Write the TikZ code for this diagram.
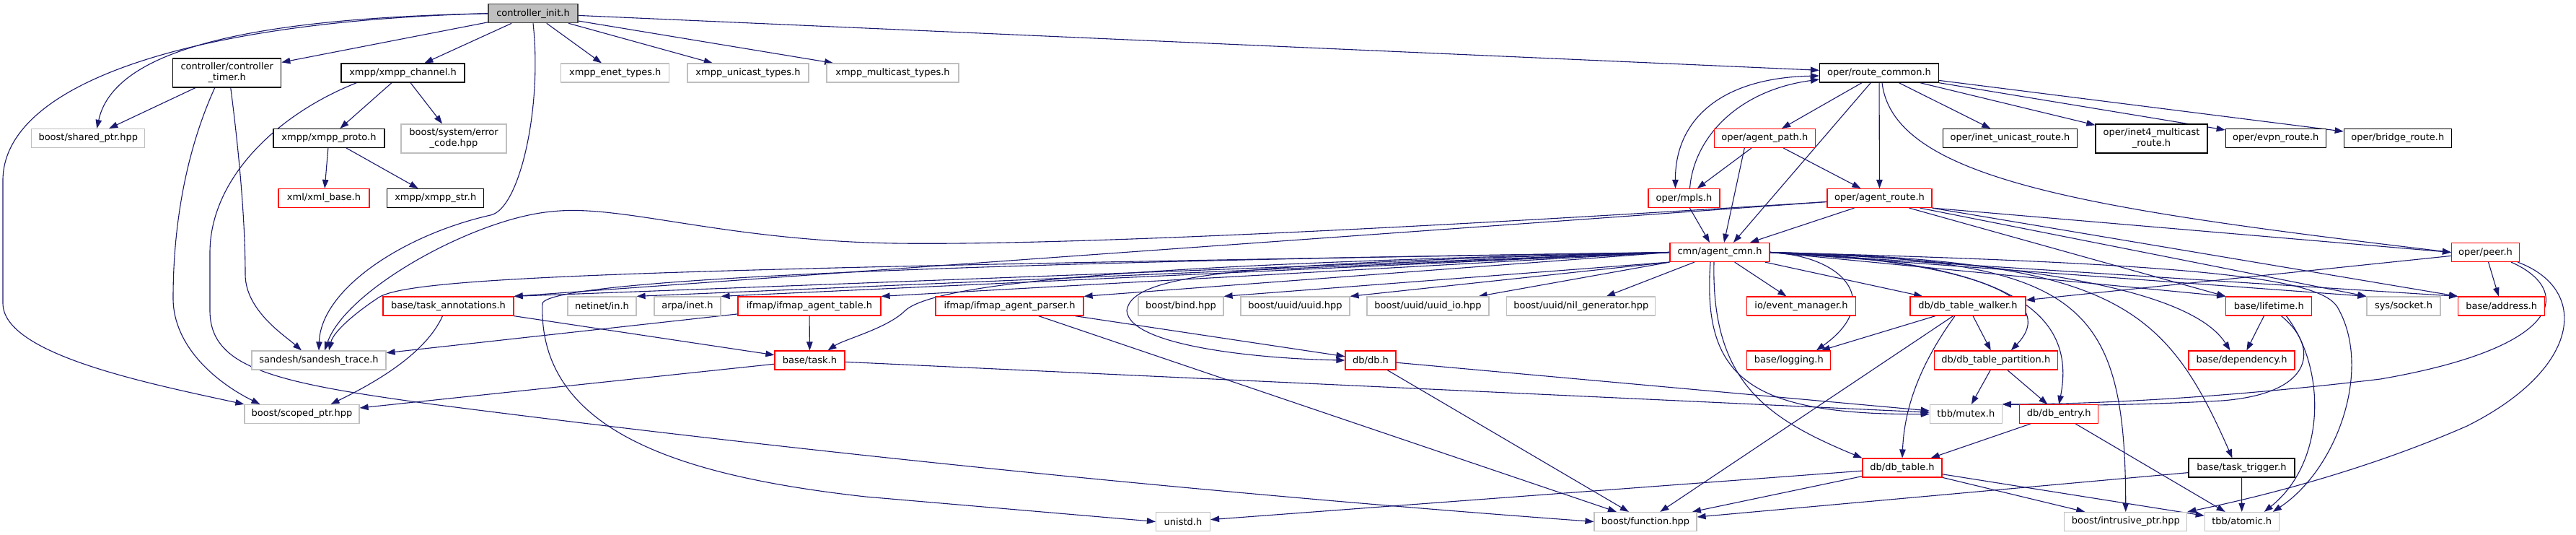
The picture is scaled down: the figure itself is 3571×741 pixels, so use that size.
\documentclass[tikz,border=0pt]{standalone}
\usepackage{fontspec}
\setmainfont{DejaVu Sans}
\usepackage{tikz}
\usetikzlibrary{arrows.meta}
\definecolor{edgeblue}{HTML}{191970}
\definecolor{nodered}{HTML}{FF0000}
\definecolor{nodegrey}{HTML}{BFBFBF}
\definecolor{rootline}{HTML}{404040}
\pgfdeclarelayer{background}
\pgfsetlayers{background,main}

\begin{document}
\begin{tikzpicture}[
    x=1pt, y=-1pt,
    box/.style={rectangle, draw, line width=1.2pt, fill=white, minimum height=26pt, inner sep=2pt, align=center, font=\fontsize{13}{15}\selectfont},
    tall/.style={minimum height=40pt},
    rootbox/.style={box, draw=rootline, fill=nodegrey},
    blackbox/.style={box, draw=black},
    greybox/.style={box, draw=nodegrey},
    redbox/.style={box, draw=nodered},
    arrow/.style={-{Stealth[length=12pt, width=8.5pt, inset=0pt]}, draw=edgeblue, line width=1.1pt},
    darrow/.style={{Stealth[length=12pt, width=8.5pt, inset=0pt]}-{Stealth[length=12pt, width=8.5pt, inset=0pt]}, draw=edgeblue, line width=1.1pt},
]
\useasboundingbox (0,0) rectangle (3571,741);

% Root
\node[rootbox, minimum width=124pt] (C) at (739,18.7) {controller\_init.h};

% Second row
\node[blackbox, tall, minimum width=150pt] (timer) at (314.75,101) {controller/controller\\\_timer.h};
\node[blackbox, minimum width=171pt] (channel) at (558.5,101) {xmpp/xmpp\_channel.h};
\node[greybox, minimum width=150pt] (enet) at (852.75,101) {xmpp\_enet\_types.h};
\node[greybox, minimum width=168pt] (unicast) at (1037,101) {xmpp\_unicast\_types.h};
\node[greybox, minimum width=183pt] (multicast) at (1237.5,101) {xmpp\_multicast\_types.h};
\node[blackbox, minimum width=165pt] (R) at (2605,101) {oper/route\_common.h};

% Third row
\node[greybox, minimum width=157pt] (shared) at (122.3,191.5) {boost/shared\_ptr.hpp};
\node[blackbox, minimum width=154pt] (proto) at (456,191.5) {xmpp/xmpp\_proto.h};
\node[greybox, tall, minimum width=146pt] (errcode) at (629,192) {boost/system/error\\\_code.hpp};
\node[redbox, minimum width=140pt] (P) at (2446.25,191.5) {oper/agent\_path.h};
\node[blackbox, minimum width=186pt] (inetuni) at (2786.5,191.5) {oper/inet\_unicast\_route.h};
\node[blackbox, tall, minimum width=155pt] (inet4) at (2982.5,192) {oper/inet4\_multicast\\\_route.h};
\node[blackbox, minimum width=139pt] (evpn) at (3154.75,191.5) {oper/evpn\_route.h};
\node[blackbox, minimum width=149pt] (bridge) at (3323.75,191.5) {oper/bridge\_route.h};

% Fourth and fifth rows
\node[redbox, minimum width=126pt] (xmlbase) at (449,274.5) {xml/xml\_base.h};
\node[blackbox, minimum width=134pt] (xmppstr) at (603.75,274.5) {xmpp/xmpp\_str.h};
\node[redbox, minimum width=99pt] (mpls) at (2334.5,274.5) {oper/mpls.h};
\node[redbox, minimum width=145pt] (AR) at (2605.5,274.5) {oper/agent\_route.h};
\node[redbox, minimum width=138pt] (A) at (2384,349.5) {cmn/agent\_cmn.h};
\node[redbox, minimum width=94pt] (peer) at (3445.5,349.5) {oper/peer.h};

% Sixth row
\node[redbox, minimum width=181pt] (TA) at (621.5,424) {base/task\_annotations.h};
\node[greybox, minimum width=95pt] (netinet) at (834.5,424) {netinet/in.h};
\node[greybox, minimum width=92pt] (arpa) at (953,424) {arpa/inet.h};
\node[redbox, minimum width=198pt] (IT) at (1122,424) {ifmap/ifmap\_agent\_table.h};
\node[redbox, minimum width=205pt] (IP) at (1399.5,424) {ifmap/ifmap\_agent\_parser.h};
\node[greybox, minimum width=118pt] (bind) at (1637,424) {boost/bind.hpp};
\node[greybox, minimum width=151pt] (uuid) at (1795.5,424) {boost/uuid/uuid.hpp};
\node[greybox, minimum width=169pt] (uuidio) at (1979.5,424) {boost/uuid/uuid\_io.hpp};
\node[greybox, minimum width=206pt] (nilgen) at (2191.75,424) {boost/uuid/nil\_generator.hpp};
\node[redbox, minimum width=151pt] (EM) at (2497,424) {io/event\_manager.h};
\node[redbox, minimum width=160pt] (walker) at (2728,424) {db/db\_table\_walker.h};
\node[redbox, minimum width=119pt] (lifetime) at (3145.3,424) {base/lifetime.h};
\node[greybox, minimum width=102pt] (socket) at (3332,424) {sys/socket.h};
\node[redbox, minimum width=120pt] (address) at (3467.75,424) {base/address.h};

% Seventh row
\node[greybox, minimum width=186pt] (sandesh) at (442,499) {sandesh/sandesh\_trace.h};
\node[redbox, minimum width=97pt] (task) at (1122.5,499) {base/task.h};
\node[redbox, minimum width=70pt] (db) at (1900,499) {db/db.h};
\node[redbox, minimum width=116pt] (logging) at (2479.85,499) {base/logging.h};
\node[redbox, minimum width=171pt] (partition) at (2766.8,499) {db/db\_table\_partition.h};
\node[redbox, minimum width=147pt] (dependency) at (3107.5,499) {base/dependency.h};

% Lower rows
\node[greybox, minimum width=159pt] (scoped) at (418.5,573.5) {boost/scoped\_ptr.hpp};
\node[greybox, minimum width=100pt] (mutex) at (2725.3,573.5) {tbb/mutex.h};
\node[redbox, minimum width=109pt] (dbentry) at (2854.25,573.5) {db/db\_entry.h};
\node[redbox, minimum width=110pt] (dbtable) at (2637,648) {db/db\_table.h};
\node[blackbox, minimum width=147pt] (tasktrigger) at (3107.5,648) {base/task\_trigger.h};
\node[greybox, minimum width=75pt] (unistd) at (1640,722.5) {unistd.h};
\node[greybox, minimum width=142pt] (function) at (2281,722.5) {boost/function.hpp};
\node[greybox, minimum width=170pt] (intrusive) at (2946.75,722.5) {boost/intrusive\_ptr.hpp};
\node[greybox, minimum width=103pt] (atomic) at (3107.75,722.5) {tbb/atomic.h};

\begin{pgfonlayer}{background}
\fill[white] (0,0) rectangle (3571,741);

% controller_init.h
\draw[arrow] (C) -- (timer);
\draw[arrow] (C) -- (channel);
\draw[arrow] (C) -- (enet);
\draw[arrow] (C) -- (unicast);
\draw[arrow] (C) -- (multicast);
\draw[arrow] (C) -- (R);
\draw[arrow] (C.west) .. controls (380,25) and (160,60) .. ([xshift=12pt]shared.north);
\draw[arrow] (C.west) .. controls (250,30) and (4,120) .. (4,250) -- (4,420) .. controls (4,490) and (200,530) .. (scoped.north west);
\draw[arrow] (C.south) .. controls (752,150) and (720,290) .. (680,298) .. controls (560,325) and (445,400) .. (sandesh.north);

% controller_timer.h
\draw[arrow] (timer) -- (shared);
\draw[arrow] ([xshift=-17pt]timer.south) .. controls (262,200) and (240,300) .. (240,413) .. controls (240,480) and (300,530) .. ([xshift=-58pt]scoped.north);
\draw[arrow] ([xshift=5pt]timer.south) .. controls (330,200) and (340,300) .. (340,380) .. controls (340,430) and (395,465) .. ([xshift=-24pt]sandesh.north);

% xmpp
\draw[arrow] (channel) -- (proto);
\draw[arrow] (channel) -- (errcode);
\draw[arrow] ([xshift=-64pt]channel.south) .. controls (380,160) and (291,250) .. (291,350) -- (291,430) .. controls (291,510) and (380,530) .. (600,560) .. controls (1300,650) and (1900,700) .. (function.west);
\draw[arrow] (proto) -- (xmlbase);
\draw[arrow] (proto) -- (xmppstr);

% route_common.h
\draw[arrow] (R) -- (P);
\draw[arrow] (R) -- ([xshift=19pt]A.north);
\draw[arrow] (R) -- (AR);
\draw[arrow] (R) -- (inetuni);
\draw[arrow] (R) -- (inet4);
\draw[arrow] (R) -- (evpn);
\draw[arrow] (R) -- (bridge);
\draw[arrow] ([xshift=4pt]R.south) .. controls (2625,250) and (2900,290) .. (peer.west);
\draw[darrow] ([yshift=-4pt]R.west) .. controls (2380,108) and (2322,170) .. ([xshift=-12pt]mpls.north);
\draw[arrow] ([xshift=8pt]mpls.north) .. controls (2348,190) and (2410,125) .. ([yshift=-9pt]R.west);

% agent_path.h, mpls.h
\draw[arrow] (P) -- (mpls);
\draw[arrow] ([xshift=-28pt]P.south) -- ([xshift=6pt]A.north);
\draw[arrow] (P) -- (AR);
\draw[arrow] (mpls) -- ([xshift=-14pt]A.north);

% agent_route.h
\draw[arrow] ([xshift=-35pt]AR.south) -- ([xshift=42pt]A.north);
\draw[arrow] ([xshift=41pt]AR.south) -- (lifetime.north west);
\draw[arrow] ([xshift=56pt]AR.south) -- (socket.north west);
\draw[arrow] (AR.south east) -- (address.north west);
\draw[arrow] (AR.south east) -- (peer.west);
\draw[arrow] ([yshift=-5pt]AR.west) -- (TA.north east);
\draw[arrow] ([yshift=-5pt]AR.west) .. controls (1900,320) and (1450,340) .. (1240,337) .. controls (1000,333) and (860,282) .. (765,293) .. controls (660,302) and (480,400) .. ([xshift=8pt]sandesh.north);

% agent_cmn.h
\draw[arrow] (A.west) -- (TA.north east);
\draw[arrow] (A.west) -- (netinet.north east);
\draw[arrow] (A.west) -- (arpa.north east);
\draw[arrow] (A.west) -- (IT.north east);
\draw[arrow] (A.west) -- (IP.north east);
\draw[arrow] (A.south west) -- (bind.north east);
\draw[arrow] (A.south west) -- (uuid.north east);
\draw[arrow] (A.south west) -- ([xshift=-15pt]uuidio.north east);
\draw[arrow] (A) -- (nilgen);
\draw[arrow] (A) -- (EM);
\draw[arrow] (A) -- (walker);
\draw[arrow] (A.east) -- (lifetime.north west);
\draw[arrow] (A.east) -- (socket.north west);
\draw[arrow] (A.east) -- (address.north west);
\draw[arrow] (A.east) .. controls (2560,355) and (2610,420) .. ([xshift=38pt]logging.north);
\draw[arrow] (A.east) .. controls (2720,360) and (2860,410) .. ([xshift=21pt]partition.north);
\draw[arrow] (A.east) .. controls (2780,360) and (2880,430) .. (dbentry.north);
\draw[arrow] (A.east) .. controls (2900,365) and (3050,420) .. ([xshift=-16pt]dependency.north);
\draw[arrow] (A.east) .. controls (2880,360) and (2946,410) .. (intrusive.north);
\draw[arrow] (A.east) .. controls (2930,360) and (3000,420) .. ([xshift=-13pt]tasktrigger.north);
\draw[arrow] (A.east) .. controls (3050,365) and (3215,385) .. (3240,425) .. controls (3290,510) and (3240,650) .. ([xshift=43pt]atomic.north);
\draw[arrow] ([xshift=-13pt]A.south) .. controls (2360,520) and (2420,575) .. (mutex.west);
\draw[arrow] ([xshift=-8pt]A.south) .. controls (2372,530) and (2450,580) .. (dbtable.north west);
\draw[arrow] (A.west) .. controls (1400,362) and (765,385) .. (752,420) .. controls (745,600) and (950,660) .. (1200,688) -- (unistd.west);
\draw[arrow] (A.west) .. controls (1600,365) and (1300,390) .. (1255,430) .. controls (1230,455) and (1170,470) .. ([xshift=25pt]task.north);
\draw[arrow] (A.west) .. controls (1750,365) and (1570,375) .. (1562,430) .. controls (1565,480) and (1750,497) .. (db.west);
\draw[arrow] (A.west) .. controls (900,372) and (570,383) .. (525,412) .. controls (490,435) and (462,460) .. ([xshift=14pt]sandesh.north);

% db_table_walker.h, peer.h, lifetime.h
\draw[arrow] (walker) -- (logging);
\draw[arrow] (walker) -- (partition);
\draw[arrow] ([xshift=-18pt]walker.south) .. controls (2665,500) and (2640,560) .. (dbtable.north);
\draw[arrow] (walker) -- (function);
\draw[arrow] (peer) -- (address);
\draw[arrow] (peer) -- (walker);
\draw[arrow] ([xshift=-12pt]peer.south east) .. controls (3565,400) and (3560,480) .. (3300,525) .. controls (3050,555) and (2870,560) .. (mutex.north east);
\draw[arrow] ([xshift=-3pt]peer.south east) .. controls (3590,400) and (3580,510) .. (3420,590) .. controls (3260,660) and (3100,695) .. (intrusive.north east);
\draw[arrow] (lifetime) -- (dependency);
\draw[arrow] ([xshift=17pt]lifetime.south) .. controls (3215,480) and (3210,545) .. (3080,555) .. controls (2950,562) and (2850,562) .. (mutex.north east);
\draw[arrow] ([xshift=24pt]lifetime.south) .. controls (3225,510) and (3225,640) .. ([xshift=31pt]atomic.north);

% task_annotations.h, ifmap, task.h, db.h
\draw[arrow] (TA) -- (task);
\draw[arrow] ([xshift=-8pt]TA.south) .. controls (590,490) and (520,530) .. ([xshift=40pt]scoped.north);
\draw[arrow] (IT) -- (sandesh);
\draw[arrow] (IT) -- (task);
\draw[arrow] (IP) -- (db);
\draw[arrow] (IP) -- (function);
\draw[arrow] (task) -- (scoped);
\draw[arrow] (task) -- (mutex);
\draw[arrow] (db) -- (mutex);
\draw[arrow] (db) -- (function);

% db_table_partition.h, db_entry.h, db_table.h, task_trigger.h
\draw[arrow] (partition) -- (mutex);
\draw[arrow] (partition) -- (dbentry);
\draw[arrow] (dbentry) -- (dbtable);
\draw[arrow] (dbentry) -- (atomic);
\draw[arrow] (dbtable) -- (unistd);
\draw[arrow] (dbtable) -- (function);
\draw[arrow] (dbtable) -- (intrusive);
\draw[arrow] (dbtable) -- (atomic);
\draw[arrow] (tasktrigger) -- (atomic);
\draw[arrow] (tasktrigger) -- (function);
\end{pgfonlayer}

\end{tikzpicture}
\end{document}
